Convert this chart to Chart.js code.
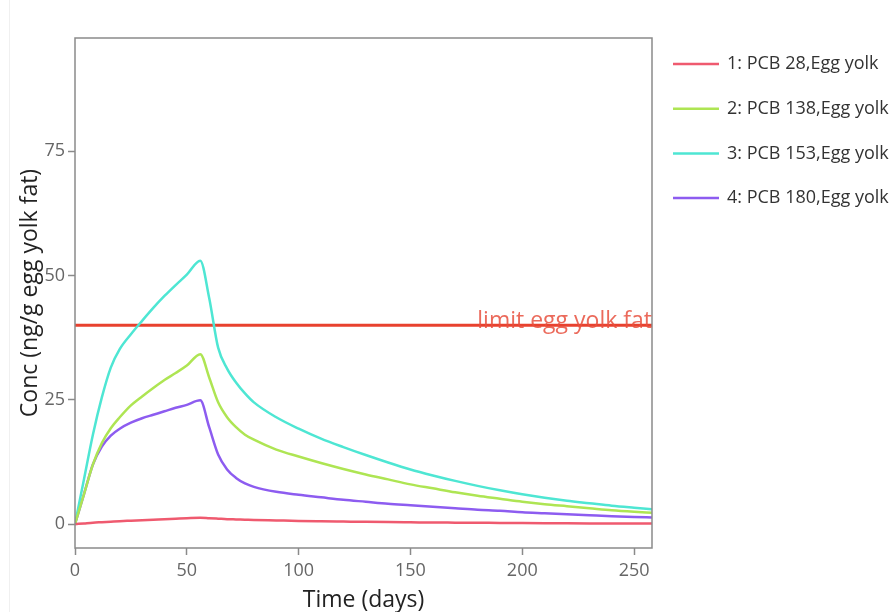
<!DOCTYPE html>
<html>
<head>
<meta charset="utf-8">
<script src="https://cdn.jsdelivr.net/npm/chart.js@4/dist/chart.umd.min.js"></script>
<style>
  html, body { margin: 0; padding: 0; background: #fff; }
  #wrap { position: relative; width: 893px; height: 612px; }
  #edge { position: absolute; left: 9px; top: 0; width: 1px; height: 612px; background: #f0f0f0; }
</style>
</head>
<body>
<div id="wrap">
  <div id="edge"></div>
  <canvas id="grafico" width="893" height="612"></canvas>
</div>
<script>
// tempo (dias)
const tempo = [0, 4, 8, 12, 16, 20, 25, 30, 35, 40, 45, 50, 56, 60, 64, 68, 72, 76, 80, 90, 100,
  110, 120, 130, 140, 150, 160, 170, 180, 190, 200, 210, 220, 230, 240, 250, 258];

const pcb28 = [0, 0.15, 0.3, 0.4, 0.5, 0.6, 0.7, 0.8, 0.9, 1.0, 1.1, 1.2, 1.3, 1.2, 1.1, 1.0, 0.95, 0.9, 0.85, 0.75, 0.65,
  0.58, 0.52, 0.46, 0.41, 0.37, 0.33, 0.3, 0.27, 0.24, 0.21, 0.19, 0.17, 0.15, 0.13, 0.12, 0.11];
const pcb138 = [0, 6, 12, 16.3, 19.3, 21.5, 23.9, 25.7, 27.4, 29, 30.4, 31.9, 34.2, 29.5, 24.5, 21.5, 19.5, 18, 17, 15, 13.6,
  12.3, 11.1, 10, 9, 8, 7.2, 6.4, 5.7, 5.1, 4.5, 4.0, 3.6, 3.2, 2.8, 2.5, 2.3];
const pcb153 = [0, 9, 18, 25.5, 31.5, 35.2, 38.2, 40.9, 43.5, 45.9, 48.1, 50.2, 53, 45.5, 35.5, 31.3, 28.5, 26.3, 24.5, 21.5, 19.2,
  17.2, 15.5, 13.9, 12.4, 11, 9.8, 8.7, 7.7, 6.8, 6, 5.3, 4.7, 4.2, 3.7, 3.3, 3.0];
const pcb180 = [0, 6, 12, 15.6, 17.8, 19.2, 20.4, 21.3, 22, 22.7, 23.4, 24, 24.9, 19.5, 14, 11, 9.3, 8.2, 7.5, 6.5, 5.9,
  5.4, 4.9, 4.5, 4.1, 3.8, 3.5, 3.2, 2.9, 2.7, 2.4, 2.2, 2.0, 1.8, 1.6, 1.45, 1.35];

const nomes = ['1: PCB 28,Egg yolk', '2: PCB 138,Egg yolk', '3: PCB 153,Egg yolk', '4: PCB 180,Egg yolk'];
const cores = ['#ef5a6f', '#aee553', '#4ee6d3', '#8d5cf0'];

const limite = 40;
const limiteTexto = 'limit egg yolk fat';
const xTicks = [0, 50, 100, 150, 200, 250];
const yTicks = [0, 25, 50, 75];

const FONTE = "'Open Sans', sans-serif";

function pontos(valores) {
  return tempo.map((t, i) => ({ x: t, y: valores[i] }));
}

const series = [pcb28, pcb138, pcb153, pcb180];
const datasets = series.map((s, i) => ({
  label: nomes[i],
  data: pontos(s),
  borderColor: cores[i],
  borderWidth: 2.5,
  pointRadius: 0,
  cubicInterpolationMode: 'monotone',
  fill: false
}));

// linha de limite
datasets.push({
  label: 'limite',
  data: [{ x: 0, y: limite }, { x: 258, y: limite }],
  borderColor: '#e8412e',
  borderWidth: 3,
  pointRadius: 0,
  fill: false
});

const extras = {
  id: 'extras',
  afterDraw(chart) {
    const ctx = chart.ctx;
    const a = chart.chartArea;
    const sx = chart.scales.x, sy = chart.scales.y;

    // moldura
    ctx.save();
    ctx.strokeStyle = '#8a8a8a';
    ctx.lineWidth = 1.5;
    ctx.strokeRect(a.left, a.top, a.right - a.left, a.bottom - a.top);

    // texto do limite
    ctx.font = '23px ' + FONTE;
    ctx.fillStyle = 'rgba(232, 80, 62, 0.85)';
    ctx.textAlign = 'right';
    ctx.textBaseline = 'alphabetic';
    ctx.fillText(limiteTexto, sx.right, sy.getPixelForValue(limite) + 3);

    // legenda
    ctx.font = '18px ' + FONTE;
    ctx.textAlign = 'left';
    ctx.textBaseline = 'middle';
    nomes.forEach((n, i) => {
      const y = 64 + i * 44.7;
      ctx.strokeStyle = cores[i];
      ctx.lineWidth = 2.5;
      ctx.beginPath();
      ctx.moveTo(673, y);
      ctx.lineTo(719, y);
      ctx.stroke();
      ctx.fillStyle = '#333';
      ctx.fillText(n, 727, y);
    });
    ctx.restore();
  }
};

new Chart(document.getElementById('grafico').getContext('2d'), {
  type: 'line',
  data: { datasets: datasets },
  options: {
    responsive: false,
    animation: false,
    layout: { padding: { top: 38, right: 241, left: 0, bottom: 0 } },
    plugins: {
      legend: { display: false },
      tooltip: { enabled: false }
    },
    scales: {
      x: {
        type: 'linear',
        min: 0,
        max: 258,
        afterBuildTicks: (s) => { s.ticks = xTicks.map(v => ({ value: v })); },
        afterFit: (s) => { s.height = 64; },
        grid: { drawOnChartArea: false, tickLength: 7, color: '#8a8a8a', tickWidth: 1.5 },
        border: { display: false },
        ticks: { color: '#666', font: { family: FONTE, size: 18 }, padding: 5, maxRotation: 0 },
        title: { display: true, text: 'Time (days)', color: '#222', font: { family: FONTE, size: 23 }, padding: { top: 0, bottom: -2 } }
      },
      y: {
        type: 'linear',
        min: -4.8,
        max: 97.8,
        afterBuildTicks: (s) => { s.ticks = yTicks.map(v => ({ value: v })); },
        afterFit: (s) => { s.width = 75; },
        grid: { drawOnChartArea: false, tickLength: 7, color: '#8a8a8a', tickWidth: 1.5 },
        border: { display: false },
        ticks: { color: '#666', font: { family: FONTE, size: 18 }, padding: 3 },
        title: { display: true, text: 'Conc (ng/g egg yolk fat)', color: '#222', font: { family: FONTE, size: 23 }, padding: { top: 17, bottom: 0 } }
      }
    }
  },
  plugins: [extras]
});
</script>
</body>
</html>
